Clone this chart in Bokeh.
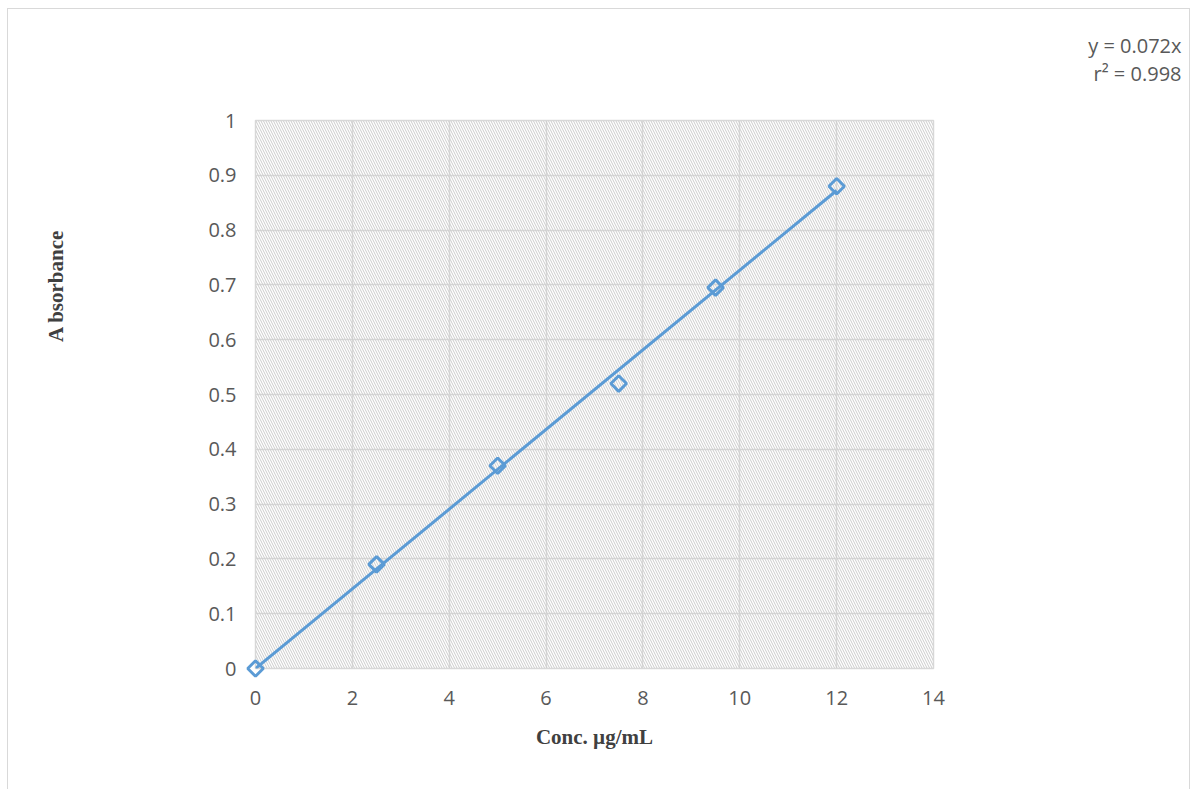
import numpy as np
from bokeh.plotting import figure
from bokeh.models import Range1d, Title, BoxAnnotation, FixedTicker, ColumnDataSource
from bokeh.embed import file_html
from bokeh.resources import INLINE

conc = [0, 2.5, 5, 7.5, 9.5, 12]
absorbance = [0, 0.19, 0.37, 0.52, 0.695, 0.88]
x_ticks = [0, 2, 4, 6, 8, 10, 12, 14]
y_ticks = [0, 0.1, 0.2, 0.3, 0.4, 0.5, 0.6, 0.7, 0.8, 0.9, 1]
equation = "y = 0.072x"
r2_text = "r² = 0.998"

xa = np.array(conc)
ya = np.array(absorbance)
slope = float((xa * ya).sum() / (xa * xa).sum())
fit_x = [0, max(conc)]
fit_y = [0, slope * max(conc)]

W, H = 1183, 781
p = figure(width=W, height=H, output_backend="svg", toolbar_location=None,
           x_range=Range1d(0, 14), y_range=Range1d(0, 1),
           min_border_left=247, min_border_right=258, min_border_top=111, min_border_bottom=122)
p.styles = {"border": "1px solid #d9d9d9", "border-bottom": "none", "box-sizing": "border-box",
            "margin-left": "7px", "margin-top": "8px"}
p.background_fill_color = "white"
p.border_fill_color = "white"
p.outline_line_color = "#d9d9d9"
p.outline_line_width = 1.5

p.add_layout(BoxAnnotation(fill_alpha=0, line_alpha=0, hatch_pattern="left_diagonal_line",
                           hatch_color="#cccccc", hatch_scale=5, hatch_weight=1, level="underlay"))

p.xaxis.ticker = FixedTicker(ticks=x_ticks)
p.yaxis.ticker = FixedTicker(ticks=y_ticks)
p.yaxis.major_label_overrides = {0: "0", 1: "1"}
for ax in (p.xaxis[0], p.yaxis[0]):
    ax.axis_line_color = None
    ax.major_tick_line_color = None
    ax.minor_tick_line_color = None
    ax.major_label_text_font = "Open Sans"
    ax.major_label_text_font_size = "20px"
    ax.major_label_text_color = "#595959"
p.xaxis.major_label_standoff = 16
p.yaxis.major_label_standoff = 13
p.xaxis.axis_label = "Conc. µg/mL"
p.xaxis.axis_label_text_font = "Liberation Serif"
p.xaxis.axis_label_text_font_style = "bold"
p.xaxis.axis_label_text_font_size = "21px"
p.xaxis.axis_label_text_color = "#404040"
p.xaxis.axis_label_standoff = 17

p.grid.grid_line_color = "#d9d9d9"
p.grid.grid_line_width = 1.5
p.xgrid.ticker = FixedTicker(ticks=x_ticks)
p.ygrid.ticker = FixedTicker(ticks=y_ticks)

p.line(fit_x, fit_y, line_color="#5b9bd5", line_width=3)
src = ColumnDataSource(dict(x=conc, y=absorbance))
p.scatter("x", "y", source=src, marker="square", angle=np.pi / 4, size=11, fill_color="white",
          fill_alpha=0, line_color="#5b9bd5", line_width=3, level="overlay")

# Spacer, then the Y-axis title as a left-side Title
p.add_layout(Title(text=" ", standoff=112, text_font="Liberation Serif", text_font_style="bold",
                   text_font_size="21px"), "left")
p.add_layout(Title(text="A bsorbance", align="right", offset=109, standoff=0,
                   text_font="Liberation Serif", text_font_style="bold", text_font_size="21px",
                   text_color="#404040"), "left")
# Equation text as titles above the frame, pushed right
p.add_layout(Title(text=r2_text, align="right", offset=-248, standoff=68,
                   text_font="Open Sans", text_font_style="normal", text_font_size="20px",
                   text_color="#595959"), "above")
p.add_layout(Title(text=equation, align="right", offset=-248, standoff=-70,
                   text_font="Open Sans", text_font_style="normal", text_font_size="20px",
                   text_color="#595959"), "above")

open("out.html", "w").write(file_html(p, INLINE))
